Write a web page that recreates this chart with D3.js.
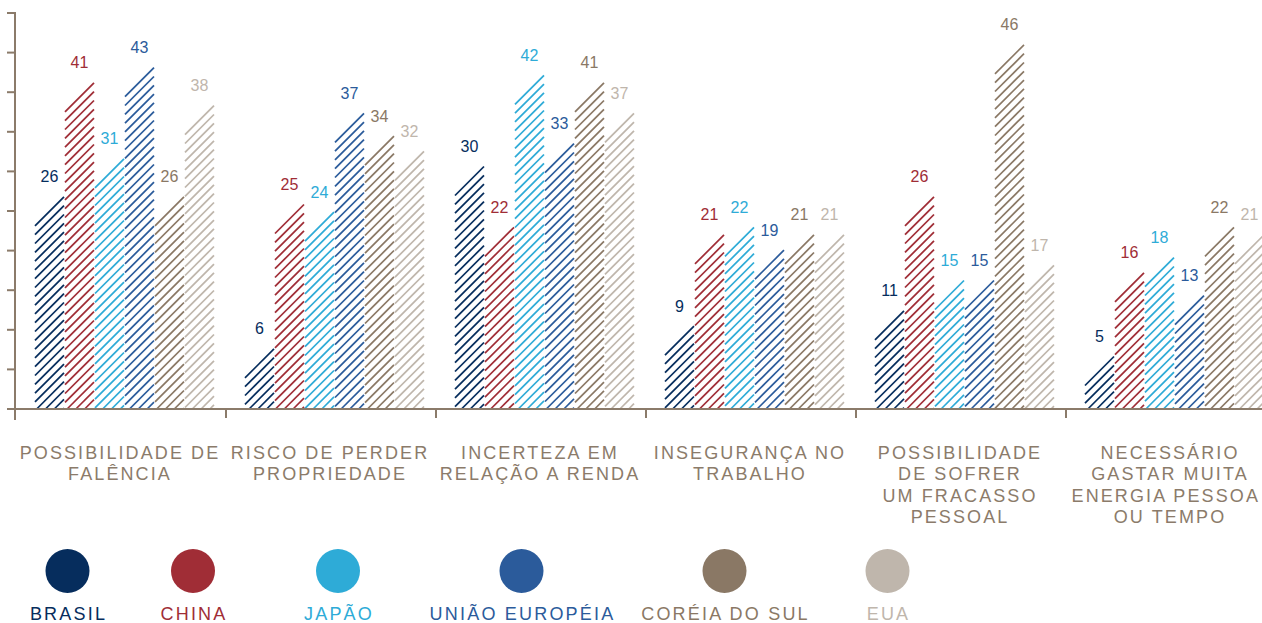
<!DOCTYPE html>
<html>
<head>
<meta charset="utf-8">
<script src="https://cdn.jsdelivr.net/npm/d3@7"></script>
<style>
  html, body { margin: 0; padding: 0; background: #fff; }
  svg { display: block; }
  text { font-family: "Liberation Sans", Arial, sans-serif; }
</style>
</head>
<body>
<svg id="chart" width="1262" height="623"></svg>
<script>
// ---- data ----
const categories = ["falencia", "propriedade", "renda", "trabalho", "fracasso", "energia"];
const categoryLabels = [
  ["POSSIBILIDADE DE", "FALÊNCIA"],
  ["RISCO DE PERDER", "PROPRIEDADE"],
  ["INCERTEZA EM", "RELAÇÃO A RENDA"],
  ["INSEGURANÇA NO", "TRABALHO"],
  ["POSSIBILIDADE", "DE SOFRER", "UM FRACASSO", "PESSOAL"],
  ["NECESSÁRIO", "GASTAR MUITA", "ENERGIA PESSOA", "OU TEMPO"]
];
const series = ["BRASIL", "CHINA", "JAPÃO", "UNIÃO EUROPÉIA", "CORÉIA DO SUL", "EUA"];
const brasil = [26, 6, 30, 9, 11, 5];
const china  = [41, 25, 22, 21, 26, 16];
const japao  = [31, 24, 42, 22, 15, 18];
const ue     = [43, 37, 33, 19, 15, 13];
const coreia = [26, 34, 41, 21, 46, 22];
const eua    = [38, 32, 37, 21, 17, 21];
const values = [brasil, china, japao, ue, coreia, eua];

// ---- styles / layout ----
const colors = ["#062d5d", "#a02d36", "#2eabd7", "#2b5b9b", "#8a7865", "#bfb6ac"];
const axisColor = "#8b7b6a";
const legendCenters = [67.5, 193, 338, 521.5, 724.5, 887.5];

const svg = d3.select("#chart");
const W = 1262;
const baseline = 409;

const x0 = d3.scaleBand().domain(categories).range([16, 16 + 6 * 210]);
const x1 = d3.scaleBand().domain(series).range([19, 199]);
const y = d3.scaleLinear().domain([0, 50]).range([baseline, 29]);
const tickScale = d3.scaleLinear().domain([0, 10]).range([baseline, 13]);

const barW = x1.bandwidth() - 1;
const spacing = 8.8;

// ---- bars (hatched, slanted top centred on value) ----
const bars = [];
categories.forEach((c, ci) => {
  series.forEach((s, si) => {
    bars.push({ c, ci, s, si, v: values[si][ci] });
  });
});

const barG = svg.append("g");
bars.forEach(b => {
  const bx = x0(b.c) + x1(b.s);
  const topRight = y(b.v) - barW / 2;
  const segs = [];
  for (let k = 0; topRight + k * spacing < baseline; k++) {
    const yr = topRight + k * spacing;     // y at right edge
    const yl = yr + barW;                   // y at left edge
    let xa = bx, ya = yl;
    if (yl > baseline) { xa = bx + (yl - baseline); ya = baseline; }
    segs.push({ x1: xa, y1: ya, x2: bx + barW, y2: yr });
  }
  barG.append("g").selectAll("line").data(segs).join("line")
    .attr("x1", d => d.x1).attr("y1", d => d.y1)
    .attr("x2", d => d.x2).attr("y2", d => d.y2)
    .attr("stroke", colors[b.si])
    .attr("stroke-width", 1.7);
});

// value labels
svg.append("g").selectAll("text").data(bars).join("text")
  .attr("x", d => x0(d.c) + x1(d.s) + barW / 2)
  .attr("y", d => y(d.v) - 29)
  .attr("text-anchor", "middle")
  .attr("font-size", 16)
  .attr("fill", d => colors[d.si])
  .text(d => d.v);

// ---- axes ----
const axisG = svg.append("g");
axisG.append("line")
  .attr("x1", 15).attr("x2", 15).attr("y1", 12).attr("y2", 420)
  .attr("stroke", axisColor).attr("stroke-width", 2);
axisG.selectAll("line.yt").data(tickScale.ticks(10)).join("line")
  .attr("class", "yt")
  .attr("x1", 7).attr("x2", 15)
  .attr("y1", d => tickScale(d)).attr("y2", d => tickScale(d))
  .attr("stroke", axisColor).attr("stroke-width", 2);
axisG.append("line")
  .attr("x1", 15).attr("x2", W).attr("y1", baseline).attr("y2", baseline)
  .attr("stroke", axisColor).attr("stroke-width", 2);
axisG.selectAll("line.xt").data(categories.slice(1)).join("line")
  .attr("class", "xt")
  .attr("x1", d => x0(d)).attr("x2", d => x0(d))
  .attr("y1", baseline).attr("y2", baseline + 9)
  .attr("stroke", axisColor).attr("stroke-width", 2);

// category labels
const catG = svg.append("g");
categories.forEach((c, ci) => {
  const cx = x0(c) + x0.bandwidth() / 2 - 1;
  catG.append("g").selectAll("text").data(categoryLabels[ci]).join("text")
    .attr("text-anchor", "middle")
    .attr("font-size", 18)
    .attr("letter-spacing", "2.1px")
    .attr("fill", axisColor)
    .attr("x", cx)
    .attr("y", (d, i) => 459 + i * 21.3)
    .text(d => d)
    .each(function () {
      // keep text inside the canvas
      const bb = this.getBBox();
      const over = bb.x + bb.width - (W - 2);
      if (over > 0) d3.select(this).attr("x", cx - over);
    });
});

// ---- legend ----
const legG = svg.append("g");
const items = legG.selectAll("g").data(series).join("g")
  .attr("transform", (d, i) => `translate(${legendCenters[i]},0)`);
items.append("circle")
  .attr("cx", 0).attr("cy", 571).attr("r", 22)
  .attr("fill", (d, i) => colors[i]);
items.append("text")
  .attr("x", 1).attr("y", 620)
  .attr("text-anchor", "middle")
  .attr("font-size", 18)
  .attr("letter-spacing", "2.2px")
  .attr("fill", (d, i) => colors[i])
  .text(d => d);
</script>
</body>
</html>
